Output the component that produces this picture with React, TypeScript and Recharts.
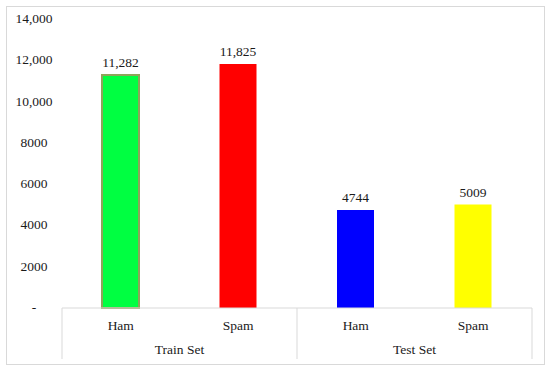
import { Bar, BarChart, Cell, LabelList, XAxis, YAxis } from "recharts";

const categories = ["Ham", "Spam", "Ham", "Spam"];
const groups = ["Train Set", "Train Set", "Test Set", "Test Set"];
const counts = [11282, 11825, 4744, 5009];
const yTicks = [0, 2000, 4000, 6000, 8000, 10000, 12000, 14000];
const yTickLabels = ["-", "2000", "4000", "6000", "8000", "10,000", "12,000", "14,000"];

const barColors = ["#00ff41", "#ff0000", "#0000ff", "#ffff00"];
const barStrokes = ["#8fa35a", "none", "none", "none"];

const data = categories.map((name, i) => ({
  name,
  group: groups[i],
  count: counts[i],
}));

const WIDTH = 550;
const HEIGHT = 369;
const MARGIN = { top: 19, right: 18, bottom: 11, left: 0 };
const Y_AXIS_WIDTH = 62;
const BAND = (WIDTH - MARGIN.left - MARGIN.right - Y_AXIS_WIDTH) / data.length;
const FONT = "'Liberation Serif', serif";
const LINE = "#d9d9d9";

const formatCount = (v: number) =>
  v >= 10000 ? v.toLocaleString("en-US") : String(v);

function YTick({ y, payload }: any) {
  const idx = yTicks.indexOf(payload.value);
  return (
    <text x={34} y={y} dy={4} textAnchor="middle" fontSize={13.5} fontFamily={FONT} fill="#1a1a1a">
      {yTickLabels[idx]}
    </text>
  );
}

function GroupTick({ x, y, payload, index }: any) {
  const i = index ?? payload.index;
  const top = y - 33;
  const bottom = y + 18;
  const isStart = i === 0 || groups[i] !== groups[i - 1];
  const isLast = i === groups.length - 1;
  const isGroupEnd = isLast || groups[i] !== groups[i + 1];
  return (
    <g>
      {isStart && <line x1={x - BAND / 2} x2={x - BAND / 2} y1={top} y2={bottom} stroke={LINE} />}
      {isLast && <line x1={x + BAND / 2} x2={x + BAND / 2} y1={top} y2={bottom} stroke={LINE} />}
      {isGroupEnd && !isStart && (
        <text x={x - BAND / 2} y={y} dy={13} textAnchor="middle" fontSize={13.5} fontFamily={FONT} fill="#1a1a1a">
          {groups[i]}
        </text>
      )}
    </g>
  );
}

export default function App() {
  return (
    <div style={{ position: "absolute", left: 0, top: 0, width: WIDTH, height: HEIGHT, background: "#fff" }}>
      <div
        style={{
          position: "absolute",
          left: 6,
          top: 6,
          width: 537,
          height: 357,
          border: `1px solid ${LINE}`,
        }}
      />
      <BarChart width={WIDTH} height={HEIGHT} data={data} margin={MARGIN} barSize={37}>
        <YAxis
          domain={[0, 14000]}
          ticks={yTicks}
          width={Y_AXIS_WIDTH}
          axisLine={false}
          tickLine={false}
          tick={<YTick />}
          interval={0}
        />
        <XAxis
          dataKey="name"
          height={25}
          axisLine={{ stroke: LINE }}
          tickLine={false}
          interval={0}
          tick={{ fontSize: 13.5, fontFamily: FONT, fill: "#1a1a1a" }}
          tickMargin={6}
        />
        <XAxis
          xAxisId="group"
          dataKey="group"
          height={25}
          axisLine={false}
          tickLine={false}
          interval={0}
          allowDuplicatedCategory
          tick={<GroupTick />}
        />
        <Bar dataKey="count" isAnimationActive={false}>
          {data.map((d, i) => (
            <Cell key={i} fill={barColors[i]} stroke={barStrokes[i]} strokeWidth={2} />
          ))}
          <LabelList
            dataKey="count"
            position="top"
            offset={8}
            formatter={(v: any) => formatCount(Number(v))}
            style={{ fontSize: 13.5, fontFamily: FONT, fill: "#1a1a1a" }}
          />
        </Bar>
      </BarChart>
    </div>
  );
}
